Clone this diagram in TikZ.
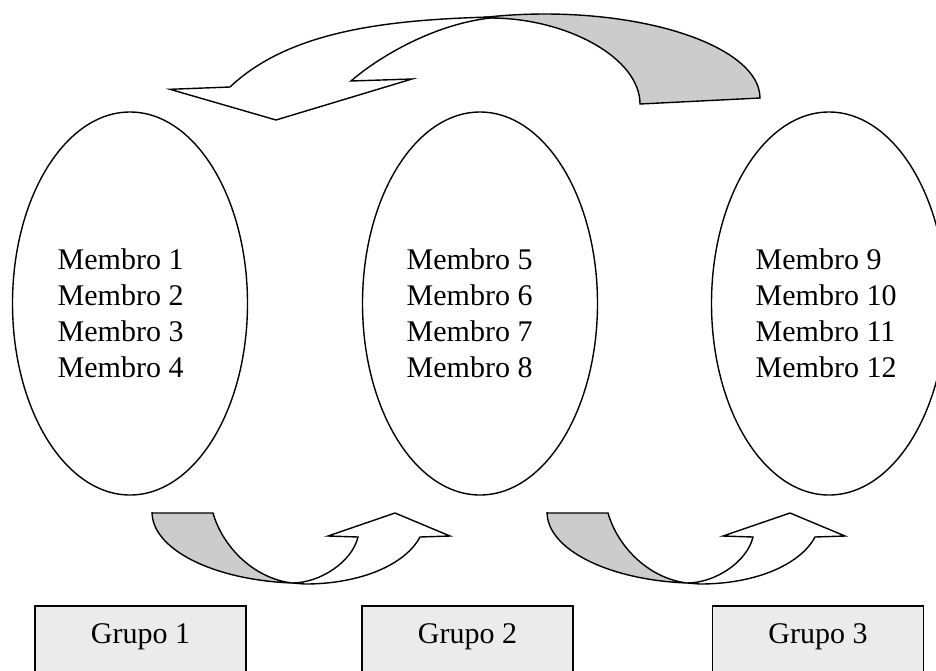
\documentclass[tikz,border=0pt]{standalone}
\usepackage{fontspec}
\setmainfont{Liberation Serif}
\usetikzlibrary{shapes.geometric}
\begin{document}
\begin{tikzpicture}[x=1pt,y=-1pt,line width=1.4pt,
  grp/.style={ellipse,draw,line width=1.4pt,minimum width=235pt,minimum height=383pt,inner sep=0pt},
  members/.style={anchor=north west,align=left,inner sep=0pt,font=\fontsize{30}{36}\selectfont},
  gbox/.style={draw,fill=black!8,line width=1.4pt,minimum width=211pt,minimum height=74pt,
    text height=20pt,text depth=20pt,font=\fontsize{30}{36}\selectfont},
  back/.style={draw,fill=black!20,line width=1.4pt,line join=miter},
  front/.style={draw,fill=white,line width=1.4pt,line join=miter}]
\useasboundingbox (0,0) rectangle (936,670);

% the three groups and their members
\node[grp] (g1) at (130,303.5) {};
\node[grp] (g2) at (480,303.5) {};
\node[grp] (g3) at (829,303.5) {};
\node[members] (m1) at (57,247.5) {Membro 1\\Membro 2\\Membro 3\\Membro 4};
\node[members] (m2) at (406,247.5) {Membro 5\\Membro 6\\Membro 7\\Membro 8};
\node[members] (m3) at (755,247.5) {Membro 9\\Membro 10\\Membro 11\\Membro 12};

% group labels
\node[gbox] (b1) at (140.5,643) {Grupo 1};
\node[gbox] (b2) at (467.5,643) {Grupo 2};
\node[gbox] (b3) at (818,643) {Grupo 3};

% curved arrow over the top, pointing back to the first group
\draw[back] (490,18) .. controls (567,18) and (640,58) .. (640,104)
  -- (760,98) arc[start angle=0,end angle=-105.7,x radius=215,y radius=84] -- cycle;
\draw[front] (487,17.1) .. controls (390,20) and (290,30) .. (230,87)
  -- (170,89.3) -- (276,120) -- (412,79) -- (351,81)
  .. controls (375,60) and (430,25) .. (490,18) -- cycle;

% curved arrows underneath, from one group to the next
\foreach \dx in {0,395}{
  \begin{scope}[xshift=\dx pt]
    \draw[back] (152,513) -- (213,513) .. controls (222,545) and (252,578) .. (292,583)
      arc[start angle=94.9,end angle=180,x radius=153,y radius=71] -- cycle;
    \draw[front] (292,583) .. controls (320,583) and (352,562) .. (358,537)
      -- (328,536) -- (395,513) -- (450,536) -- (420,537)
      .. controls (405,565) and (360,584) .. (305,584) -- cycle;
  \end{scope}
}
\end{tikzpicture}
\end{document}
